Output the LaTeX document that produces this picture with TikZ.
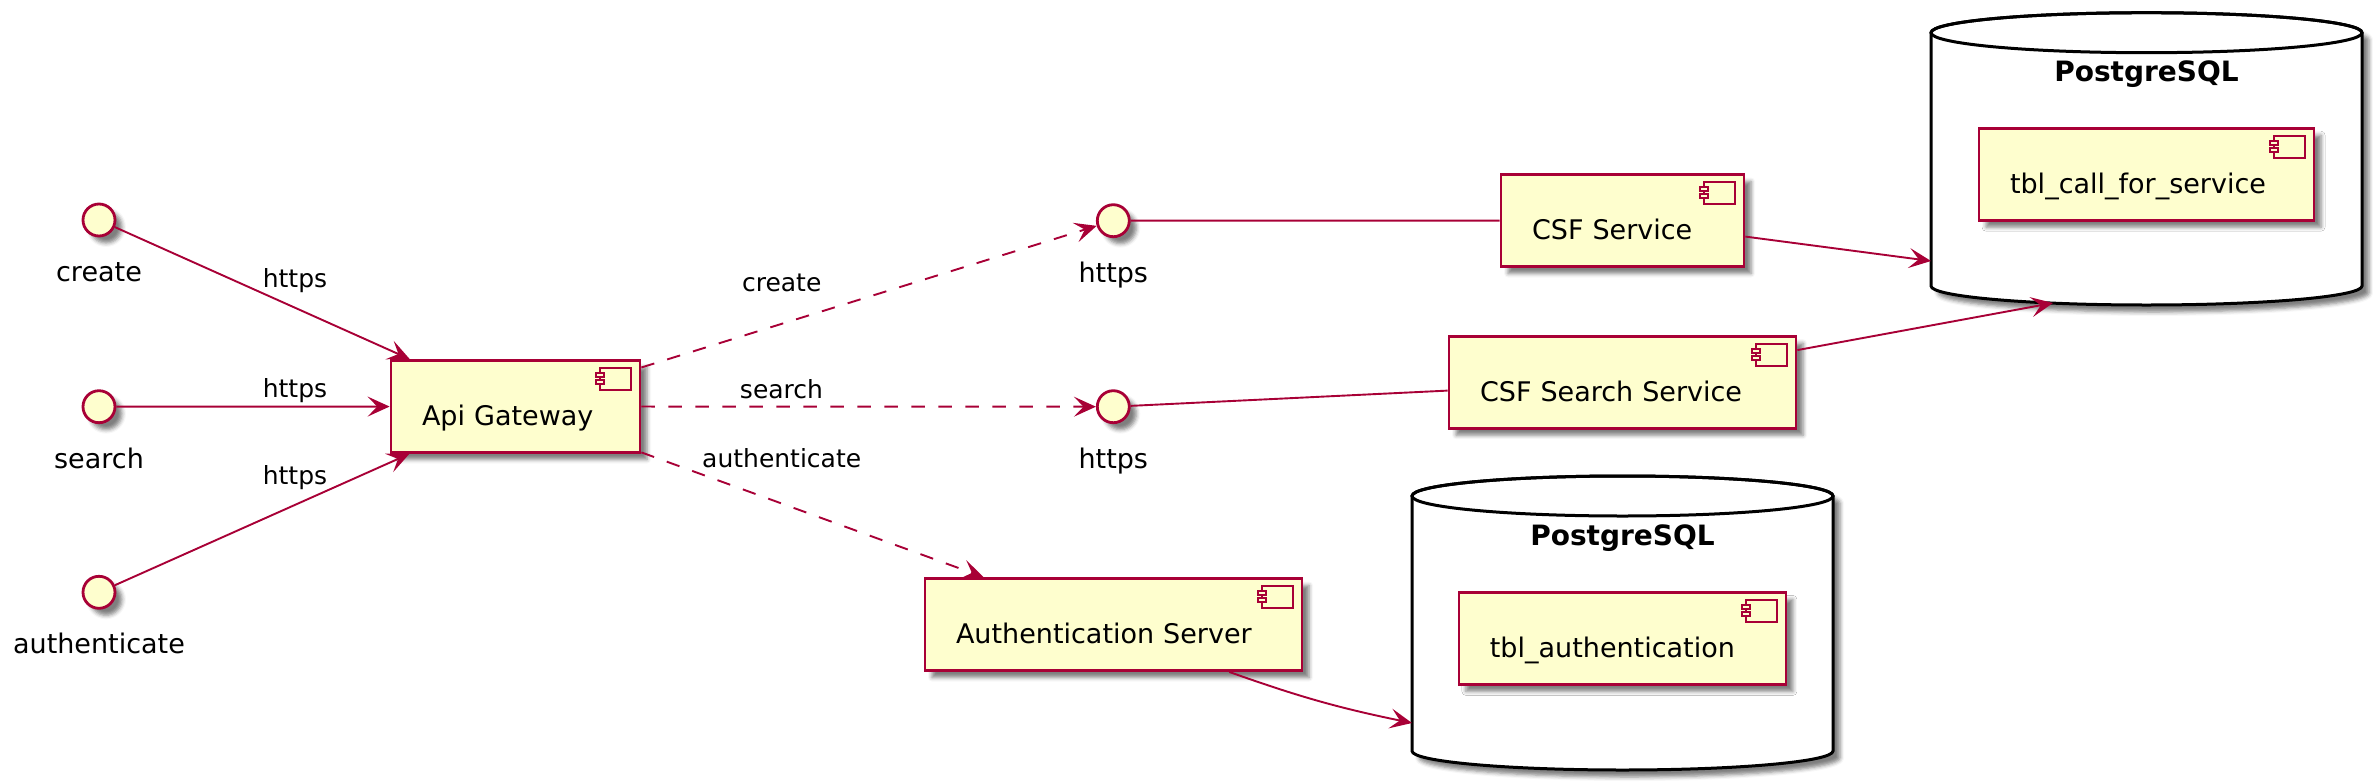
\documentclass[tikz,border=0pt]{standalone}
\usepackage{fontspec}
\setmainfont{DejaVu Sans}
\usetikzlibrary{arrows.meta,shadows.blur}
\definecolor{umlred}{HTML}{A80036}
\definecolor{umlfill}{HTML}{FEFECE}

\newcommand{\compicon}[1]{%
\begin{scope}[shift={(#1.north east)}]
\filldraw[umlred, fill=umlfill, line width=1pt] (-41,9) rectangle (-10,31);
\filldraw[umlred, fill=umlfill, line width=1pt] (-45,14) rectangle (-37,18);
\filldraw[umlred, fill=umlfill, line width=1pt] (-45,21) rectangle (-37,25);
\end{scope}}

\begin{document}
\begin{tikzpicture}[x=0.5pt, y=-0.5pt,
  shade/.style={blur shadow={shadow xshift=3.5pt, shadow yshift=-3.5pt, shadow blur radius=2pt, shadow opacity=50}},
  comp/.style={draw=umlred, fill=umlfill, line width=1.4pt, inner xsep=15.5pt, inner ysep=0pt, align=left, text height=32.5pt, text depth=13.5pt, font=\fontsize{13.5}{16}\selectfont, shade},
  ifc/.style={circle, draw=umlred, fill=umlfill, line width=1.4pt, minimum size=16pt, inner sep=0pt, shade},
  ifclbl/.style={font=\fontsize{13.5}{16}\selectfont, anchor=base, label distance=22pt},
  elbl/.style={font=\fontsize{12.5}{15}\selectfont, anchor=base, inner sep=0pt},
  db/.style={draw=black, fill=white, line width=1.5pt, shade},
  link/.style={draw=umlred, line width=0.95pt},
  arr/.style={-{Stealth[length=11pt, width=10pt, inset=4.8pt]}},
  dlink/.style={link, arr, dash pattern=on 6.75pt off 6.75pt}]

\useasboundingbox (0,0) rectangle (2373,782);

\filldraw[db] (1931,32.7) -- (1931,286) arc[start angle=180, end angle=0, x radius=215.5, y radius=19] -- (2362,32.7) arc[start angle=0, end angle=-180, x radius=215.5, y radius=20] -- cycle;
\draw[black, line width=1.5pt] (2146.5,32.7) ellipse[x radius=215.5, y radius=20];
\node[font=\fontsize{14}{17}\selectfont\bfseries, anchor=base] (pg1) at (2146.5,81.7) {PostgreSQL};

\filldraw[db] (1412,496) -- (1412,751) arc[start angle=180, end angle=0, x radius=210.5, y radius=19] -- (1833,496) arc[start angle=0, end angle=-180, x radius=210.5, y radius=20] -- cycle;
\draw[black, line width=1.5pt] (1622.5,496) ellipse[x radius=210.5, y radius=20];
\node[font=\fontsize{14}{17}\selectfont\bfseries, anchor=base] (pg2) at (1622.5,545) {PostgreSQL};

\node[ifc, label={[ifclbl]below:create}] (icreate) at (99,220) {};
\node[ifc, label={[ifclbl]below:search}] (isearch) at (99,406.7) {};
\node[ifc, label={[ifclbl]below:authenticate}] (iauth) at (99,592.3) {};
\node[ifc, label={[ifclbl]below:https}] (hcreate) at (1113.3,220.7) {};
\node[ifc, label={[ifclbl]below:https}] (hsearch) at (1113.3,406.7) {};

\node[comp, text width=93.5pt] (gw) at (515.5,406.5) {Api Gateway};
\node[comp, text width=90.5pt] (csf) at (1622.5,220.5) {CSF Service};
\node[comp, text width=142.5pt] (csfs) at (1622.5,382.2) {CSF Search Service};
\node[comp, text width=157.5pt] (auth) at (1113.5,624.5) {Authentication Server};
\node[comp, text width=136.5pt] (tcall) at (2146.5,174.2) {tbl\_call\_for\_service};
\node[comp, text width=132.5pt] (tauth) at (1622.4,638.4) {tbl\_authentication};
\compicon{gw}
\compicon{csf}
\compicon{csfs}
\compicon{auth}
\compicon{tcall}
\compicon{tauth}

\coordinate (db1w) at (1931,261);
\coordinate (db1s) at (2053,303);
\coordinate (db2w) at (1412,723);

\draw[link, arr] (icreate) -- (gw);
\draw[link, arr] (isearch) -- (gw);
\draw[link, arr] (iauth) -- (gw);
\draw[dlink] (gw) -- (hcreate);
\draw[dlink] (gw) -- (hsearch);
\draw[dlink] (gw) -- (auth);
\draw[link] (hcreate) -- (csf);
\draw[link] (hsearch) -- (csfs);
\draw[link, arr] (csf) -- (db1w);
\draw[link, arr] (csfs) -- (db1s);
\draw[link, arr] (auth) to[bend right=4] (db2w);

\node[elbl] (lhc) at (295,287) {https};
\node[elbl] (lhs) at (295,397) {https};
\node[elbl] (lha) at (295,484) {https};
\node[elbl] (lc) at (781.7,291.7) {create};
\node[elbl] (ls) at (781.5,398) {search};
\node[elbl] (la) at (781.7,467.3) {authenticate};

\end{tikzpicture}
\end{document}
